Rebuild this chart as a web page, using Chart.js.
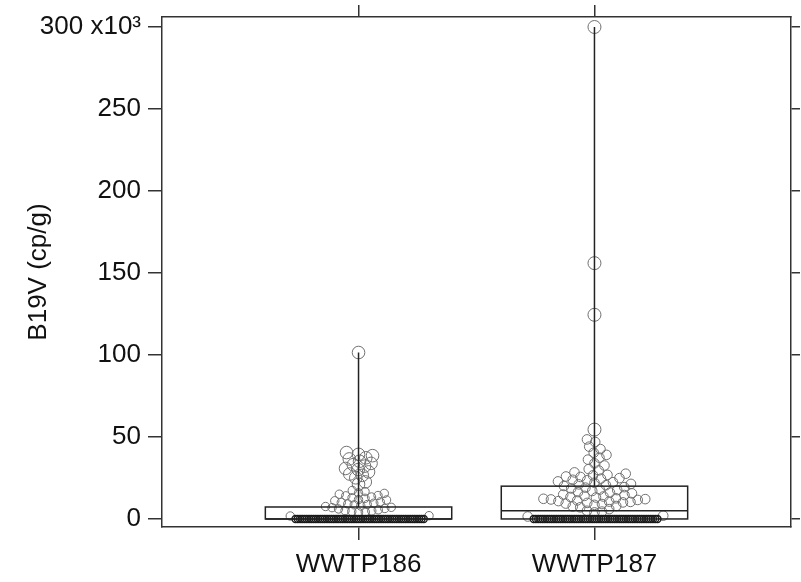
<!DOCTYPE html>
<html>
<head>
<meta charset="utf-8">
<title>B19V per WWTP</title>
<script src="https://cdn.jsdelivr.net/npm/chart.js@4.4.1/dist/chart.umd.min.js"></script>
<style>
  html, body { margin: 0; padding: 0; background: #fff; }
  #wrap { width: 801px; height: 582px; }
</style>
</head>
<body>
<div id="wrap"><canvas id="chart" width="801" height="582"></canvas></div>
<script>
// categories and tick values
const categories = ['WWTP186', 'WWTP187'];
const yTicks = [0, 50000, 100000, 150000, 200000, 250000, 300000];

// B19V (cp/g) per sample
const wwtp186 = [
  101500,
  40500, 39400, 38600, 37300, 36600, 35200, 33900, 33100, 32200, 30800, 30100, 28700, 27400, 26600, 25100, 22600, 21200,
  17400, 16700, 15900, 15600, 15100, 14300, 14100, 13400, 12900, 12600, 11800, 11600, 11100, 10400, 10100, 9600, 9200,
  8800, 8600, 7900, 7600, 7100, 6900, 6400, 6100, 5600, 5100, 4900, 4600, 4300, 4100,
  2000, 1800,
  0, 0, 0, 0, 0, 0, 0, 0, 0, 0, 0, 0, 0, 0, 0, 0, 0, 0, 0, 0,
  0, 0, 0, 0, 0, 0, 0, 0, 0, 0, 0, 0, 0, 0, 0, 0, 0, 0, 0, 0,
  0, 0, 0, 0, 0, 0, 0, 0, 0, 0, 0, 0, 0, 0, 0, 0, 0, 0
];
const wwtp187 = [
  300000, 156000, 124500, 54500,
  48500, 46900, 44100, 42600, 40400, 39100, 37400, 36200, 33900, 32600, 30400, 29600, 28400,
  27600, 26900, 26600, 25900, 25600, 24900, 24600, 23900, 23600, 22900, 22400, 22100, 21400, 21100, 20600, 20100,
  19400, 19100, 18600, 17900, 17600, 17100, 16400, 16100, 15600, 14900, 14600, 14100, 13700, 13400, 13100, 12600,
  12300, 12100, 11900, 11600, 11300, 10900, 10600, 10400, 10100, 9800, 9400, 9100, 8600, 7900, 7600, 7100,
  6000, 5000, 4500, 4000,
  2000, 1500,
  0, 0, 0, 0, 0, 0, 0, 0, 0, 0, 0, 0, 0, 0, 0, 0, 0, 0, 0, 0,
  0, 0, 0, 0, 0, 0, 0, 0, 0, 0, 0, 0, 0, 0, 0, 0, 0, 0, 0, 0,
  0, 0, 0, 0, 0, 0, 0, 0, 0, 0, 0, 0, 0, 0, 0, 0
];

// box statistics per category
const boxMin = [0, 0];
const boxQ1 = [0, 0];
const boxMedian = [0, 5000];
const boxQ3 = [7300, 20000];
const boxMax = [101500, 300000];

const BOX_HALF = 0.395; // half box width in category units
const LINE = '#222';
const FONT = { family: "'Liberation Sans', Arial, sans-serif", size: 26 };

function radiusFor(group, v) {
  if (v === 0) return 3.5;
  if (group === 0) return v >= 20000 ? 6.3 : 4.2;
  return v >= 50000 ? 6.5 : 4.8;
}

// simple beeswarm: push each point sideways until it no longer overlaps
function swarm(values, group, xs, ys) {
  const cx = xs.getPixelForValue(group);
  const order = values.map((v, i) => i).sort((a, b) => values[a] - values[b]);
  const placed = [];
  const out = new Array(values.length);
  order.forEach(i => {
    const v = values[i];
    const py = ys.getPixelForValue(v);
    const r = radiusFor(group, v);
    let dx = 0;
    for (let k = 0; k < 1000; k++) {
      const cand = k === 0 ? 0 : (k % 2 ? 1 : -1) * Math.ceil(k / 2) * 0.25;
      const hit = placed.some(p => {
        let sep = (r + p.r) * (Math.min(r, p.r) >= 6 ? 0.55 : 0.78);
        if (v === 0 && p.v === 0) sep = 2.2;
        const ddx = cand - p.dx, ddy = py - p.py;
        return ddx * ddx + ddy * ddy < sep * sep;
      });
      if (!hit) { dx = cand; break; }
    }
    placed.push({ dx, py, r, v });
    out[i] = { x: xs.getValueForPixel(cx + dx), y: v };
  });
  return out;
}

// boxes and whiskers drawn through the chart scales
const boxPlugin = {
  id: 'boxes',
  afterDatasetsDraw(chart) {
    const { ctx, scales: { x, y } } = chart;
    ctx.save();
    ctx.strokeStyle = LINE;
    ctx.lineWidth = 1.5;
    categories.forEach((c, i) => {
      const left = x.getPixelForValue(i - BOX_HALF);
      const right = x.getPixelForValue(i + BOX_HALF);
      const mid = x.getPixelForValue(i);
      const q1 = y.getPixelForValue(boxQ1[i]);
      const q3 = y.getPixelForValue(boxQ3[i]);
      const med = y.getPixelForValue(boxMedian[i]);
      ctx.strokeRect(left, q3, right - left, q1 - q3);
      ctx.beginPath();
      ctx.moveTo(left, med); ctx.lineTo(right, med);
      ctx.moveTo(mid, q3); ctx.lineTo(mid, y.getPixelForValue(boxMax[i]));
      ctx.moveTo(mid, q1); ctx.lineTo(mid, y.getPixelForValue(boxMin[i]));
      ctx.stroke();
    });
    ctx.restore();
  }
};

const grid = len => ({ drawOnChartArea: false, drawTicks: true, tickLength: len, color: '#333', lineWidth: 1.5 });
const border = { display: true, color: '#333', width: 1.5 };
const catTicks = s => { s.ticks = categories.map((c, i) => ({ value: i })); };
const valTicks = s => { s.ticks = yTicks.map(v => ({ value: v })); };
// fixed axis sizes, no extra room for overhanging labels
const fixW = w => s => { s.width = w; s.paddingTop = 0; s.paddingBottom = 0; };
const fixH = h => s => { s.height = h; s.paddingLeft = 0; s.paddingRight = 0; };
const isZero = c => c.raw && c.raw.y === 0;

const chart = new Chart(document.getElementById('chart'), {
  type: 'scatter',
  data: {
    datasets: [wwtp186, wwtp187].map((vals, g) => ({
      label: categories[g],
      data: vals.map(v => ({ x: g, y: v })),
      pointRadius: c => radiusFor(c.datasetIndex, c.raw ? c.raw.y : 0),
      pointHoverRadius: c => radiusFor(c.datasetIndex, c.raw ? c.raw.y : 0),
      pointBorderColor: c => isZero(c) ? '#1a1a1a' : '#707070',
      pointBackgroundColor: 'rgba(0,0,0,0)',
      pointBorderWidth: c => isZero(c) ? 1.4 : 1
    }))
  },
  options: {
    responsive: false,
    animation: false,
    events: [],
    layout: { padding: 0 },
    plugins: { legend: { display: false }, tooltip: { enabled: false } },
    scales: {
      x: {
        type: 'linear', position: 'bottom', min: -0.833, max: 1.833, bounds: 'data',
        afterBuildTicks: catTicks,
        afterFit: fixH(55),
        grid: grid(13), border,
        ticks: { autoSkip: false, maxRotation: 0, padding: 9, color: '#111', font: FONT,
                 callback: v => categories[v] }
      },
      xTop: {
        type: 'linear', axis: 'x', position: 'top', min: -0.833, max: 1.833, bounds: 'data',
        afterBuildTicks: catTicks,
        afterFit: fixH(17),
        grid: grid(12), border,
        ticks: { display: false, autoSkip: false }
      },
      y: {
        type: 'linear', position: 'left', min: -4900, max: 306100, bounds: 'data',
        afterBuildTicks: valTicks,
        afterFit: fixW(162),
        grid: grid(14), border,
        title: { display: true, text: 'B19V (cp/g)', color: '#111', font: FONT, padding: { top: 23, bottom: 0 } },
        ticks: { autoSkip: false, padding: 7, color: '#111', font: FONT,
                 callback: v => v === 300000 ? '300 x10\u00B3' : String(v / 1000) }
      },
      yRight: {
        type: 'linear', axis: 'y', position: 'right', min: -4900, max: 306100, bounds: 'data',
        afterBuildTicks: valTicks,
        afterFit: fixW(10),
        grid: grid(9), border,
        ticks: { display: false, autoSkip: false }
      }
    }
  },
  plugins: [boxPlugin]
});

chart.data.datasets[0].data = swarm(wwtp186, 0, chart.scales.x, chart.scales.y);
chart.data.datasets[1].data = swarm(wwtp187, 1, chart.scales.x, chart.scales.y);
chart.update('none');
</script>
</body>
</html>
